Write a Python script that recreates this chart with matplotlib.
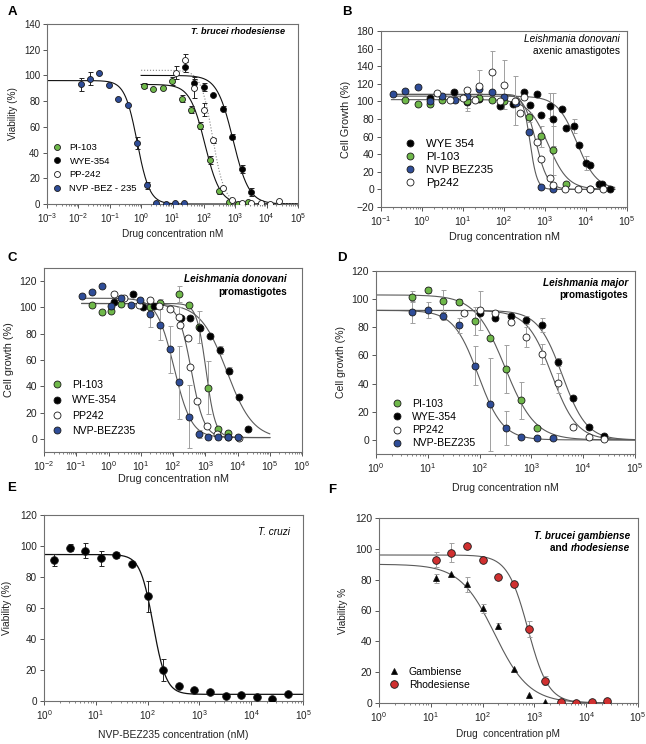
import numpy as np
import matplotlib
matplotlib.use("Agg")
import matplotlib.pyplot as plt
from matplotlib.ticker import LogLocator, LogFormatterSciNotation, NullFormatter

plt.rcParams['font.family'] = ['Liberation Sans', 'DejaVu Sans']
plt.rcParams['mathtext.default'] = 'regular'

W, H = 646, 744

GREEN = '#6fb84a'
BLUE = '#2f4d98'
RED = '#d03030'
GRAY_ERR = '#a0a0a0'
GRAY_FIT = '#5a5a5a'

######################### Panel A : T. brucei rhodesiense #########################
a_x_bez = [0.0117, 0.0234, 0.0469, 0.0938, 0.1875, 0.375, 0.75, 1.5, 3.0, 6.0, 12.0, 24.0]
a_y_bez = [93, 97.5, 102, 92.5, 81.5, 77, 47.5, 14.5, 0.5, 0, 0.5, 1]
a_e_bez = [5, 5, 0, 0, 0, 0, 5, 3, 0, 0, 0, 0]
a_x_pi = [1.22, 2.44, 4.88, 9.77, 19.5, 39, 78, 156, 312, 625, 1250, 2500]
a_y_pi = [92, 89.5, 90.5, 95.5, 82, 73.5, 61, 34.5, 10, 1.5, 0, 1.5]
a_e_pi = [2, 0, 0, 3, 3, 3, 3, 3, 2, 0, 0, 0]
a_x_pp = [12.5, 25, 50, 100, 200, 400, 800, 1600, 3200, 6400, 12800, 25600]
a_y_pp = [102, 112, 90.5, 73.5, 49.5, 12.5, 3, 1, 0.5, 0.5, 0.3, 2.5]
a_e_pp = [5, 5, 8, 5, 2, 0, 0, 0, 0, 0, 0, 0]
a_x_wye = [25, 50, 100, 200, 400, 800, 1600, 3200]
a_y_wye = [106.5, 94, 91, 84.5, 74, 52.5, 27, 9.5]
a_e_wye = [4, 3, 3, 0, 2, 2, 3, 3]
# fitted curves: top, bottom, IC50, slope
a_fit_bez = (96, 0, 0.75, 2.2)
a_fit_pi = (93, 0, 108, 1.8)
a_fit_pp = (104, 0, 190, 2.3)
a_fit_wye = (100, 0, 848, 1.7)

######################### Panel B : L. donovani axenic amastigotes #########################
b_x_wye = [1.55, 6, 12.5, 25, 80, 165, 316, 420, 630, 800, 1300, 1600, 2650, 3200,
           5000, 6600, 10000, 12600, 21000, 25000, 38000]
b_y_wye = [104, 110.5, 99.5, 103, 95, 96.5, 110.5, 95.5, 108, 84, 95, 79.5, 91.5, 70,
           72.5, 50.5, 30.5, 28, 6.5, 6.5, 1]
b_e_wye = [0, 0, 10, 0, 0, 0, 0, 0, 0, 0, 14, 30, 0, 0, 8, 0, 8, 0, 0, 0, 0]
b_x_pi = [0.39, 0.78, 1.56, 3.125, 12.5, 25, 50, 100, 400, 800, 1600, 3200]
b_y_pi = [102, 97, 97, 102, 100.5, 104, 102, 101, 82, 60.5, 44.5, 6.5]
b_e_pi = [0, 0, 0, 0, 8, 0, 0, 0, 5, 12, 28, 0]
b_x_bez = [0.195, 0.39, 0.78, 1.56, 3.125, 6.25, 12.5, 25, 50, 100, 200, 400, 800, 1600, 12800]
b_y_bez = [108.5, 111.5, 116, 101, 106.5, 102, 106, 114.5, 110.5, 105.5, 98, 65, 3, 0.5, 0.5]
b_e_bez = [0, 0, 0, 0, 0, 0, 0, 5, 0, 0, 0, 0, 0, 0, 0]
b_x_pp = [2.3, 4.9, 10, 12.5, 20, 25, 50, 80, 100, 190, 240, 315, 640, 800, 1300, 1550,
          3100, 6300, 12600, 25600]
b_y_pp = [110, 102, 104, 113, 102, 118, 133, 101, 119, 101, 87, 105, 54, 35, 13, 5, 1, 1, 1, 1]
b_e_pp = [0, 0, 0, 0, 0, 18, 24, 0, 28, 28, 0, 0, 0, 0, 0, 0, 0, 0, 0, 0]
b_fit_wye = (106, 0, 6000, 1.8)
b_fit_pi = (102, 0, 1200, 1.8)
b_fit_bez = (108, 0, 430, 5)
b_fit_pp = (108, 0, 600, 3)

######################### Panel C : L. donovani promastigotes #########################
c_x_pi = [0.31, 0.61, 1.22, 2.45, 19.6, 39, 157, 313, 627, 1253, 2506, 5012]
c_y_pi = [102, 96.5, 97.5, 102.5, 100.5, 103.5, 110, 102, 85, 39, 7.5, 4.5]
c_e_pi = [0, 0, 0, 0, 0, 3, 6, 0, 12, 20, 0, 0]
c_x_wye = [1.5, 5.9, 12, 25, 180, 340, 680, 1380, 2800, 5600, 11200, 21500]
c_y_wye = [104, 110.5, 100, 101, 92, 92, 84.5, 78.5, 67.5, 52, 31.5, 7.5]
c_e_wye = [0, 0, 0, 0, 0, 0, 0, 0, 3, 3, 0, 0]
c_x_pp = [1.5, 3, 9, 19, 37, 80, 150, 165, 300, 340, 560, 1120, 2300, 5000, 11000]
c_y_pp = [110, 107, 101.5, 106, 101, 99, 92.5, 86.5, 76.5, 54.5, 29, 10, 4, 1.5, 1]
c_e_pp = [0, 0, 0, 0, 0, 0, 8, 0, 0, 0, 0, 0, 0, 0, 0]
c_x_bez = [0.153, 0.31, 0.61, 1.22, 2.45, 4.9, 9.8, 19.6, 39, 78, 157, 313, 627, 1253, 2506, 5012, 10024]
c_y_bez = [108.5, 111.5, 116, 101, 107.5, 102, 106, 95, 87, 68, 43, 17, 4, 1.5, 1.5, 1.5, 1.5]
c_e_bez = [0, 0, 0, 0, 0, 0, 0, 10, 12, 18, 28, 24, 3, 0, 0, 0, 0]
c_fit_pi = (103, 1, 1060, 3)
c_fit_wye = (103, 0, 4640, 1.06)
c_fit_pp = (103, 1, 370, 2.2)
c_fit_bez = (107, 1, 108, 1.62)

######################### Panel D : L. major promastigotes #########################
d_x_pi = [5, 10, 20, 40, 80, 160, 320, 640, 1280]
d_y_pi = [101.7, 106.4, 98.7, 97.8, 84.5, 72.3, 50.5, 28.2, 8.2]
d_e_pi = [4, 2, 8, 2, 10, 0, 17, 13, 0]
d_x_wye = [100, 200, 400, 800, 1600, 3200, 6400, 12800, 25600]
d_y_wye = [90, 86.5, 88, 85, 81.5, 55.5, 29.5, 9.5, 2.5]
d_e_wye = [0, 0, 0, 3, 5, 3, 0, 0, 0]
d_x_pp = [50, 100, 200, 400, 800, 1600, 3200, 6400, 12800, 25600]
d_y_pp = [90.5, 92, 90.5, 84, 73, 61, 40.5, 9.5, 2, 0.7]
d_e_pp = [0, 14, 0, 0, 7, 7, 7, 0, 0, 0]
d_x_bez = [5, 10, 20, 40, 80, 160, 320, 640, 1280, 2560]
d_y_bez = [91, 92.3, 88, 81.3, 52.8, 25.3, 8.4, 1.8, 1.1, 1.1]
d_e_bez = [8, 6, 3, 5, 14, 33, 12, 0, 0, 0]
d_fit_pi = (103, 0, 310, 1.5)
d_fit_wye = (92, 0, 3950, 1.85)
d_fit_pp = (92, 0, 2500, 1.8)
d_fit_bez = (92, 0, 94, 1.83)

######################### Panel E : T. cruzi #########################
e_x = [1.5625, 3.125, 6.25, 12.5, 25, 50, 100, 200, 400, 800, 1600, 3200, 6400, 12800, 25600, 51200]
e_y = [91, 99, 97, 92, 94, 88.5, 67.5, 20, 10, 7, 6, 3, 4, 2.5, 1, 4.5]
e_e = [4, 2, 5, 5, 2, 1, 10, 7, 0, 0, 0, 0, 0, 0, 0, 0]
e_fit = (94.5, 4.3, 128, 3.45)

######################### Panel F : T. b. gambiense / rhodesiense #########################
f_x_gam = [12.5, 25, 50, 100, 200, 400, 800, 1600]
f_y_gam = [81, 84, 77, 61.5, 50, 22, 5, 0.8]
f_e_gam = [3, 0, 5, 3, 2, 0, 0, 0]
f_x_rho = [12.5, 25, 50, 100, 200, 400, 800, 1600, 3200, 6400, 12800, 25600]
f_y_rho = [93, 97.5, 102, 92.5, 81.5, 77, 48, 14.5, 0.5, 0, 0.5, 1]
f_e_rho = [5, 6, 0, 0, 0, 0, 5, 3, 0, 0, 0, 0]
f_fit_gam = (90, 0, 170, 1.3)
f_fit_rho = (96, 0, 750, 2.2)


def hill(x, top, bottom, ic50, slope):
    return bottom + (top - bottom) / (1 + (x / ic50) ** slope)


def fit_line(ax, lo, hi, params, color=GRAY_FIT, ls='-', lw=0.8):
    xs = np.logspace(np.log10(lo), np.log10(hi), 400)
    ax.plot(xs, hill(xs, *params), color=color, ls=ls, lw=lw, zorder=1)


def series(ax, x, y, err, fc, ms, ecolor, label, marker='o'):
    x = np.asarray(x, float)
    y = np.asarray(y, float)
    err = np.asarray(err, float)
    m = err > 0
    if m.any():
        ax.errorbar(x[m], y[m], yerr=err[m], fmt='none', ecolor=ecolor,
                    elinewidth=0.7, capsize=1.8, capthick=0.7, zorder=2)
    ax.plot(x, y, marker, ms=ms, mfc=fc, mec='#1a1a1a', mew=0.6, ls='none',
            label=label, zorder=3)


def add_ax(left, top, right, bottom):
    return fig.add_axes([left / W, 1 - bottom / H, (right - left) / W, (bottom - top) / H])


def style(ax, xlim, ylim, yticks, xlabel, ylabel, fs_tick, fs_lab, xpad, ypad):
    ax.set_xscale('log')
    ax.set_xlim(xlim)
    ax.set_ylim(ylim)
    ax.set_yticks(yticks)
    ax.xaxis.set_major_locator(LogLocator(base=10, numticks=20))
    ax.xaxis.set_major_formatter(LogFormatterSciNotation())
    ax.xaxis.set_minor_locator(LogLocator(base=10, subs=np.arange(2, 10), numticks=200))
    ax.xaxis.set_minor_formatter(NullFormatter())
    ax.tick_params(which='both', direction='out', color='#555555',
                   labelsize=fs_tick, labelcolor='#222222')
    ax.tick_params(which='major', length=3, width=0.7, pad=2)
    ax.tick_params(which='minor', length=1.7, width=0.5)
    for s in ax.spines.values():
        s.set_color('#707070')
        s.set_linewidth(0.8)
    ax.set_xlabel(xlabel, fontsize=fs_lab, labelpad=xpad, color='#222222')
    ax.set_ylabel(ylabel, fontsize=fs_lab, labelpad=ypad, color='#222222')


def legend(ax, fs, left_px, top_px, hpad, spacing):
    bb = ax.get_position()
    x = (left_px / W - bb.x0) / bb.width
    y = ((1 - top_px / H) - bb.y0) / bb.height
    ax.legend(loc='upper left', bbox_to_anchor=(x, y), frameon=False, fontsize=fs,
              handlelength=1.0, handletextpad=hpad, labelspacing=spacing,
              borderpad=0, borderaxespad=0)


def ftext(x, y, s, **kw):
    return fig.text(x / W, 1 - y / H, s, **kw)


fig = plt.figure(figsize=(W / 100, H / 100), dpi=100)

# ---------------- A ----------------
ax = add_ax(47, 24, 298, 204)
fit_line(ax, 1e-3, 1e5, a_fit_bez, color='#111111')
fit_line(ax, 1, 1e5, a_fit_pi, color='#111111')
fit_line(ax, 1, 1e5, a_fit_wye, color='#111111')
fit_line(ax, 1, 1e5, a_fit_pp, color='#888888', ls=':')
series(ax, a_x_pi, a_y_pi, a_e_pi, GREEN, 4.3, '#222222', 'PI-103')
series(ax, a_x_wye, a_y_wye, a_e_wye, 'black', 4.3, '#222222', 'WYE-354')
series(ax, a_x_pp, a_y_pp, a_e_pp, 'white', 4.3, '#222222', 'PP-242')
series(ax, a_x_bez, a_y_bez, a_e_bez, BLUE, 4.3, '#222222', 'NVP -BEZ - 235')
style(ax, (1e-3, 1e5), (0, 140), range(0, 141, 20), 'Drug concentration nM',
      'Viability (%)', 7, 7.2, 3, 4)
legend(ax, 6.8, 52, 143, 0.85, 0.5)
ftext(285, 32, 'T. brucei rhodesiense', ha='right', va='center', fontsize=6.6,
      style='italic', weight='bold')

# ---------------- B ----------------
ax = add_ax(381, 31, 627, 207)
fit_line(ax, 0.18, 5e4, b_fit_wye)
fit_line(ax, 0.18, 5e4, b_fit_pi)
fit_line(ax, 0.18, 5e4, b_fit_bez)
fit_line(ax, 0.18, 5e4, b_fit_pp)
series(ax, b_x_wye, b_y_wye, b_e_wye, 'black', 5, GRAY_ERR, 'WYE 354')
series(ax, b_x_pi, b_y_pi, b_e_pi, GREEN, 5, GRAY_ERR, 'PI-103')
series(ax, b_x_bez, b_y_bez, b_e_bez, BLUE, 5, GRAY_ERR, 'NVP BEZ235')
series(ax, b_x_pp, b_y_pp, b_e_pp, 'white', 5, GRAY_ERR, 'Pp242')
style(ax, (1e-1, 1e5), (-20, 180), range(-20, 181, 20), 'Drug concentration nM',
      'Cell Growth (%)', 7.5, 7.8, 3, 4)
legend(ax, 8.2, 404, 139, 0.9, 0.25)
ftext(620, 39, 'Leishmania donovani', ha='right', va='center', fontsize=7.3, style='italic')
ftext(620, 51, 'axenic amastigotes', ha='right', va='center', fontsize=7.3)

# ---------------- C ----------------
ax = add_ax(44, 268, 302, 452)
fit_line(ax, 0.15, 1e5, c_fit_pi)
fit_line(ax, 0.15, 1e5, c_fit_wye)
fit_line(ax, 0.15, 1e5, c_fit_pp)
fit_line(ax, 0.15, 1e5, c_fit_bez)
series(ax, c_x_pi, c_y_pi, c_e_pi, GREEN, 5, GRAY_ERR, 'PI-103')
series(ax, c_x_wye, c_y_wye, c_e_wye, 'black', 5, GRAY_ERR, 'WYE-354')
series(ax, c_x_pp, c_y_pp, c_e_pp, 'white', 5, GRAY_ERR, 'PP242')
series(ax, c_x_bez, c_y_bez, c_e_bez, BLUE, 5, GRAY_ERR, 'NVP-BEZ235')
style(ax, (1e-2, 1e6), (-10, 130), range(0, 121, 20), 'Drug concentration nM',
      'Cell growth (%)', 7.5, 7.8, 1, 4)
legend(ax, 7.6, 52, 380, 0.9, 0.5)
ftext(287, 279, 'Leishmania donovani', ha='right', va='center', fontsize=7.2,
      style='italic', weight='bold')
ftext(287, 292.5, 'promastigotes', ha='right', va='center', fontsize=7.2, weight='bold')

# ---------------- D ----------------
ax = add_ax(376, 271, 635, 454)
fit_line(ax, 1, 1e5, d_fit_pi)
fit_line(ax, 1, 1e5, d_fit_wye)
fit_line(ax, 1, 1e5, d_fit_pp)
fit_line(ax, 1, 1e5, d_fit_bez)
series(ax, d_x_pi, d_y_pi, d_e_pi, GREEN, 5, GRAY_ERR, 'PI-103')
series(ax, d_x_wye, d_y_wye, d_e_wye, 'black', 5, GRAY_ERR, 'WYE-354')
series(ax, d_x_pp, d_y_pp, d_e_pp, 'white', 5, GRAY_ERR, 'PP242')
series(ax, d_x_bez, d_y_bez, d_e_bez, BLUE, 5, GRAY_ERR, 'NVP-BEZ235')
style(ax, (1, 1e5), (-10, 120), range(0, 121, 20), 'Drug concentration nM',
      'Cell growth (%)', 7.5, 7.6, 6, 4)
legend(ax, 7.6, 392, 399, 0.9, 0.3)
ftext(628, 283, 'Leishmania major', ha='right', va='center', fontsize=7.2,
      style='italic', weight='bold')
ftext(628, 295.5, 'promastigotes', ha='right', va='center', fontsize=7.2, weight='bold')

# ---------------- E ----------------
ax = add_ax(44, 515, 303, 701)
fit_line(ax, 1, 1e5, e_fit, color='#111111', lw=0.9)
series(ax, e_x, e_y, e_e, 'black', 5.5, '#222222', None)
style(ax, (1, 1e5), (0, 120), range(0, 121, 20), 'NVP-BEZ235 concentration (nM)',
      'Viability (%)', 7.2, 7.4, 6, 6)
ftext(290, 532, 'T. cruzi', ha='right', va='center', fontsize=7.2, style='italic')

# ---------------- F ----------------
ax = add_ax(379, 518, 638, 703)
fit_line(ax, 1, 3e4, f_fit_gam)
fit_line(ax, 1, 3e4, f_fit_rho)
series(ax, f_x_gam, f_y_gam, f_e_gam, 'black', 5, GRAY_ERR, 'Gambiense', marker='^')
series(ax, f_x_rho, f_y_rho, f_e_rho, RED, 5.5, GRAY_ERR, 'Rhodesiense')
style(ax, (1, 1e5), (0, 120), range(0, 121, 20), 'Drug  concentration pM',
      'Viability %', 7.4, 7.2, 4, 5)
legend(ax, 7.5, 389, 667, 0.9, 0.3)
ftext(630, 536, 'T. brucei gambiense', ha='right', va='center', fontsize=7.2,
      style='italic', weight='bold')
t2 = ftext(630, 548, 'rhodesiense', ha='right', va='center', fontsize=7.2,
           style='italic', weight='bold')
fig.canvas.draw()
bb = t2.get_window_extent()
fig.text(bb.x0 / fig.bbox.width, 1 - 548 / H, 'and ', ha='right', va='center',
         fontsize=7.2, weight='bold')

# panel letters
for letter, (x, y) in zip('ABCDEF', [(12, 12), (347, 12), (12, 258), (342, 258), (12, 488), (332, 490)]):
    ftext(x, y, letter, ha='center', va='center', fontsize=9.5, weight='bold')

fig.savefig('out.png', dpi=100)
